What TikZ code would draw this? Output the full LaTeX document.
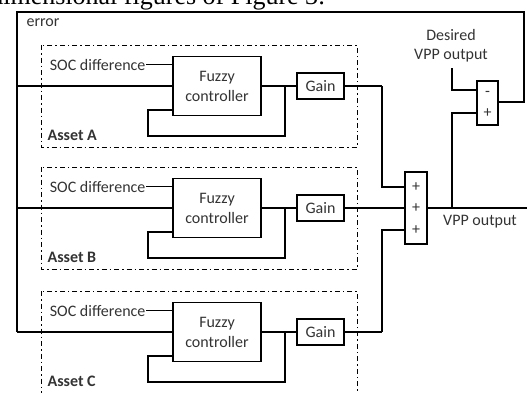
\documentclass[tikz,border=0pt]{standalone}
\usepackage{fontspec}
\setmainfont{Carlito}
\newfontfamily\capfont{Liberation Serif}
\begin{document}
\begin{tikzpicture}[x=1pt,y=-1pt,line width=1.2pt,
  lbl/.style={inner sep=0pt,font=\fontsize{16}{20}\selectfont,text=black!80},
  box/.style={draw,line width=1.2pt,inner sep=0pt,align=center,lbl},
  asset/.style={draw,line width=1pt,dash pattern=on 5pt off 3pt on 1.5pt off 3pt}]
\useasboundingbox (0,0) rectangle (527,392);
% cut caption line at the top
\node[anchor=base east,inner sep=0pt,font=\capfont\fontsize{26}{30}\selectfont] (cap) at (326,4) {dimensional figures of Figure 3:};
% outer error loop corners
\coordinate (tl) at (17,12);
\coordinate (tr) at (524,12);
\coordinate (br) at (524,102);
\node[lbl,anchor=west] (err) at (26,23) {error};
\foreach \n/\D in {A/45,B/167,C/291}{
  \draw[asset] (41,\D) rectangle (357,\D+102);
  \node[box,minimum width=88pt,minimum height=59pt] (f\n) at (217,\D+41) {Fuzzy\\controller};
  \node[box,minimum width=47pt,minimum height=26pt] (g\n) at (320.5,\D+41) {Gain};
  \node[lbl,anchor=east] (s\n) at (146,\D+19.5) {SOC difference};
  \node[lbl,anchor=west,font=\bfseries\fontsize{16}{20}\selectfont] (a\n) at (47,\D+90) {Asset \n};
  \coordinate (e\n) at (17,\D+41);
  \coordinate (b\n) at (285,\D+41);
  \coordinate (l\n) at (148,\D+91);
  \coordinate (k\n) at (148,\D+65);
  \coordinate (o\n) at (382,\D+41);
  \draw (s\n.east) -- (f\n.west |- s\n.east);
  \draw (e\n) -- (f\n.west);
  \draw (f\n.east) -- (g\n.west);
  \draw (b\n) |- (l\n) -- (k\n) -- (f\n.west |- k\n);
  \draw (g\n.east) -- (o\n);
}
% big summation block
\node[box,minimum width=22pt,minimum height=72pt] (S) at (416,208) {};
\node[lbl] (p1) at (416,187) {+};
\node[lbl] (p2) at (416,208.5) {+};
\node[lbl] (p3) at (416,230) {+};
\draw (oA) |- (p1 -| S.west);
\draw (oB) -- (S.west);
\draw (oC) |- (p3 -| S.west);
% output
\coordinate (out) at (527,208);
\coordinate (j) at (452,208);
\draw (S.east) -- (out);
\node[lbl] (vpp) at (480,222) {VPP output};
% small summation block
\node[box,minimum width=21pt,minimum height=44pt] (sm) at (487.5,103) {};
\node[lbl] (m1) at (487.5,94) {-};
\node[lbl] (m2) at (487.5,113) {+};
\draw (j) |- (m2 -| sm.west);
\node[lbl,align=center,font=\fontsize{16}{19}\selectfont] (des) at (451,45.5) {Desired\\VPP output};
\coordinate (dtop) at (452,68);
\coordinate (dk) at (452,90);
\draw (dtop) -- (dk) -- (dk -| sm.west);
% error feedback
\draw (sm.east |- br) -- (br) -- (tr) -- (tl) -- (eC);
\end{tikzpicture}
\end{document}
